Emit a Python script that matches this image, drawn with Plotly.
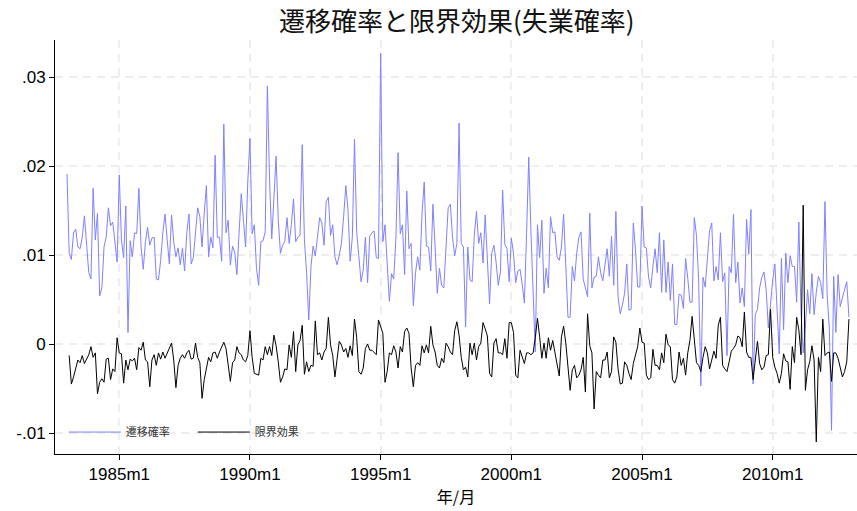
import plotly.graph_objects as go

# Monthly time index (Stata %tm codes): 1983m1 = 276 ... 2012m12 = 635
start_month = 276
n_months = 360
months = list(range(start_month, start_month + n_months))

# 遷移確率 (one row per year, Jan..Dec, 1983-2012)
transition_prob = [
    0.0191, 0.0102, 0.0095, 0.0125, 0.0129, 0.0109, 0.0107, 0.0120, 0.0144, 0.0109, 0.0080, 0.0073,
    0.0175, 0.0117, 0.0147, 0.0054, 0.0063, 0.0109, 0.0120, 0.0153, 0.0133, 0.0137, 0.0117, 0.0092,
    0.0190, 0.0117, 0.0097, 0.0155, 0.0013, 0.0116, 0.0098, 0.0125, 0.0124, 0.0175, 0.0109, 0.0084,
    0.0115, 0.0131, 0.0111, 0.0119, 0.0120, 0.0073, 0.0072, 0.0094, 0.0125, 0.0146, 0.0117, 0.0090,
    0.0145, 0.0115, 0.0098, 0.0108, 0.0089, 0.0108, 0.0082, 0.0125, 0.0146, 0.0090, 0.0097, 0.0128,
    0.0153, 0.0143, 0.0109, 0.0147, 0.0178, 0.0098, 0.0120, 0.0108, 0.0212, 0.0120, 0.0120, 0.0093,
    0.0247, 0.0125, 0.0139, 0.0089, 0.0110, 0.0103, 0.0078, 0.0125, 0.0169, 0.0139, 0.0109, 0.0182,
    0.0231, 0.0124, 0.0134, 0.0085, 0.0066, 0.0115, 0.0116, 0.0126, 0.0290, 0.0184, 0.0118, 0.0164,
    0.0211, 0.0139, 0.0102, 0.0111, 0.0115, 0.0142, 0.0113, 0.0134, 0.0163, 0.0115, 0.0120, 0.0122,
    0.0224, 0.0117, 0.0080, 0.0027, 0.0087, 0.0110, 0.0099, 0.0120, 0.0142, 0.0136, 0.0111, 0.0160,
    0.0165, 0.0122, 0.0134, 0.0098, 0.0089, 0.0100, 0.0113, 0.0143, 0.0178, 0.0151, 0.0093, 0.0120,
    0.0230, 0.0126, 0.0102, 0.0070, 0.0083, 0.0120, 0.0069, 0.0121, 0.0125, 0.0127, 0.0097, 0.0096,
    0.0327, 0.0115, 0.0134, 0.0087, 0.0048, 0.0079, 0.0073, 0.0119, 0.0215, 0.0124, 0.0134, 0.0078,
    0.0172, 0.0107, 0.0113, 0.0043, 0.0080, 0.0098, 0.0083, 0.0147, 0.0182, 0.0110, 0.0109, 0.0082,
    0.0157, 0.0109, 0.0057, 0.0085, 0.0066, 0.0063, 0.0102, 0.0153, 0.0157, 0.0120, 0.0099, 0.0113,
    0.0248, 0.0113, 0.0109, 0.0019, 0.0109, 0.0072, 0.0070, 0.0122, 0.0149, 0.0113, 0.0125, 0.0091,
    0.0145, 0.0094, 0.0045, 0.0102, 0.0111, 0.0092, 0.0066, 0.0081, 0.0173, 0.0112, 0.0107, 0.0070,
    0.0119, 0.0102, 0.0069, 0.0082, 0.0084, 0.0067, 0.0046, 0.0125, 0.0210, 0.0126, 0.0056, -0.0009,
    0.0134, 0.0097, 0.0139, 0.0057, 0.0085, 0.0063, 0.0143, 0.0125, 0.0126, 0.0098, 0.0094, 0.0109,
    0.0146, 0.0087, 0.0030, 0.0030, 0.0087, 0.0071, 0.0102, 0.0120, 0.0126, 0.0073, 0.0061, 0.0053,
    0.0147, 0.0063, 0.0075, 0.0076, 0.0098, 0.0080, 0.0071, 0.0090, 0.0107, 0.0076, 0.0121, 0.0066,
    0.0149, 0.0053, 0.0034, 0.0044, 0.0057, 0.0090, 0.0038, 0.0039, 0.0136, 0.0106, 0.0064, 0.0064,
    0.0155, 0.0109, 0.0108, 0.0075, 0.0063, 0.0087, 0.0107, 0.0080, 0.0125, 0.0058, 0.0117, 0.0058,
    0.0092, 0.0049, 0.0090, 0.0022, 0.0022, 0.0056, 0.0055, 0.0040, 0.0096, 0.0074, 0.0047, 0.0047,
    0.0142, 0.0122, 0.0072, -0.0047, 0.0075, 0.0064, 0.0098, 0.0127, 0.0136, 0.0071, 0.0087, 0.0072,
    0.0125, 0.0070, 0.0080, -0.0013, 0.0087, 0.0080, 0.0146, 0.0069, 0.0092, 0.0046, 0.0063, 0.0042,
    0.0140, 0.0101, 0.0151, -0.0045, 0.0033, 0.0039, 0.0063, 0.0075, 0.0081, 0.0061, 0.0018, 0.0049,
    0.0072, 0.0090, 0.0040, -0.0011, 0.0096, 0.0016, 0.0102, 0.0069, 0.0099, 0.0087, 0.0087, 0.0047,
    0.0137, 0.0036, -0.0010, 0.0019, 0.0061, 0.0034, 0.0079, 0.0033, 0.0058, 0.0076, 0.0069, 0.0051,
    0.0160, 0.0055, 0.0018, -0.0097, 0.0076, 0.0013, 0.0078, 0.0042, 0.0052, 0.0061, 0.0070, 0.0030,
]

# 限界効果 (first month has no value)
marginal_effect = [
    None, -0.0013, -0.0045, -0.0037, -0.0026, -0.0018, -0.0021, -0.0013, -0.0022, -0.0016, -0.0012, -0.0003,
    -0.0015, -0.0010, -0.0056, -0.0043, -0.0039, -0.0043, -0.0017, -0.0016, -0.0040, -0.0028, -0.0031, 0.0007,
    -0.0010, -0.0011, -0.0044, -0.0018, -0.0029, -0.0017, -0.0019, -0.0016, -0.0029, -0.0004, -0.0007, 0.0002,
    -0.0018, -0.0020, -0.0048, -0.0018, -0.0012, -0.0024, -0.0010, -0.0017, -0.0009, -0.0016, -0.0010, -0.0004,
    0.0001, -0.0018, -0.0049, -0.0024, -0.0016, -0.0012, -0.0016, -0.0010, -0.0007, -0.0017, -0.0016, 0.0001,
    -0.0015, -0.0021, -0.0061, -0.0040, -0.0027, -0.0015, -0.0020, -0.0010, -0.0009, -0.0016, -0.0009, -0.0003,
    0.0002, -0.0005, -0.0027, -0.0042, -0.0021, -0.0018, -0.0003, -0.0010, -0.0012, -0.0018, -0.0020, -0.0013,
    0.0015, -0.0015, -0.0033, -0.0034, -0.0035, -0.0016, -0.0018, -0.0003, -0.0012, -0.0003, -0.0013, 0.0010,
    -0.0002, -0.0020, -0.0043, -0.0037, -0.0028, -0.0029, -0.0001, -0.0015, 0.0014, -0.0031, -0.0001, 0.0004,
    0.0021, -0.0034, -0.0020, -0.0031, -0.0024, -0.0025, 0.0026, -0.0012, -0.0010, -0.0018, -0.0009, -0.0005,
    0.0030, -0.0001, -0.0013, -0.0037, -0.0017, 0.0003, -0.0001, -0.0009, -0.0005, -0.0015, -0.0002, -0.0013,
    0.0028, 0.0007, -0.0031, -0.0034, -0.0027, -0.0005, 0.0000, -0.0007, -0.0007, -0.0009, -0.0012, 0.0027,
    0.0019, 0.0012, -0.0043, -0.0031, -0.0010, -0.0012, -0.0002, -0.0009, -0.0027, -0.0003, -0.0009, 0.0014,
    0.0018, 0.0012, -0.0027, -0.0048, -0.0024, -0.0021, -0.0024, -0.0002, -0.0010, -0.0001, -0.0010, 0.0020,
    -0.0001, -0.0009, -0.0024, -0.0027, -0.0016, -0.0021, 0.0001, -0.0003, -0.0009, -0.0012, 0.0015, 0.0025,
    0.0010, -0.0015, -0.0029, -0.0026, -0.0037, 0.0001, -0.0012, 0.0001, -0.0018, -0.0003, 0.0001, 0.0024,
    0.0017, 0.0009, -0.0033, -0.0037, 0.0001, 0.0006, -0.0010, -0.0010, -0.0012, 0.0006, -0.0016, 0.0024,
    0.0024, 0.0013, -0.0035, -0.0038, -0.0007, -0.0015, -0.0022, -0.0010, -0.0010, -0.0012, -0.0010, 0.0007,
    0.0029, 0.0008, -0.0016, 0.0001, -0.0016, 0.0007, -0.0007, 0.0004, -0.0010, -0.0026, -0.0036, 0.0008,
    0.0020, 0.0001, -0.0026, -0.0052, -0.0029, -0.0024, -0.0038, -0.0035, -0.0029, -0.0015, -0.0054, 0.0034,
    -0.0002, -0.0010, -0.0073, -0.0031, -0.0035, -0.0038, -0.0018, -0.0018, -0.0009, -0.0038, -0.0031, 0.0008,
    0.0002, -0.0028, -0.0045, -0.0044, -0.0020, -0.0024, -0.0033, -0.0040, -0.0022, -0.0012, -0.0003, 0.0018,
    0.0002, 0.0001, -0.0035, -0.0040, -0.0038, -0.0006, -0.0024, -0.0024, -0.0029, -0.0010, -0.0021, 0.0011,
    -0.0001, -0.0003, -0.0040, -0.0044, -0.0037, -0.0009, -0.0024, -0.0016, -0.0035, -0.0010, 0.0004, 0.0031,
    0.0008, -0.0021, -0.0024, -0.0031, -0.0015, -0.0003, -0.0010, -0.0028, -0.0018, -0.0008, -0.0016, 0.0021,
    0.0030, -0.0024, -0.0028, -0.0031, -0.0020, -0.0008, -0.0005, -0.0001, 0.0009, 0.0007, -0.0003, 0.0036,
    -0.0009, -0.0015, -0.0015, -0.0040, -0.0018, 0.0003, -0.0022, -0.0029, -0.0026, -0.0013, -0.0012, 0.0039,
    -0.0015, -0.0026, -0.0033, -0.0044, -0.0033, -0.0011, -0.0019, -0.0020, -0.0051, -0.0003, -0.0021, 0.0030,
    0.0016, -0.0012, 0.0156, -0.0052, -0.0029, -0.0020, -0.0002, -0.0018, -0.0110, -0.0015, -0.0031, 0.0028,
    -0.0013, -0.0010, -0.0009, -0.0042, -0.0010, -0.0010, -0.0016, -0.0028, -0.0037, -0.0031, -0.0020, 0.0028,
]

series_names = ["遷移確率", "限界効果"]
x_tick_months = [300, 360, 420, 480, 540, 600]
x_tick_labels = ["1985m1", "1990m1", "1995m1", "2000m1", "2005m1", "2010m1"]
y_tick_values = [-0.01, 0, 0.01, 0.02, 0.03]
y_tick_labels = ["-.01", "0", ".01", ".02", ".03"]

title_text = "遷移確率と限界効果(失業確率)"
x_title = "年/月"

latin_font = "Liberation Sans, Arial, Helvetica, sans-serif"
cjk_font = "Noto Sans CJK JP, sans-serif"

fig = go.Figure()
fig.add_trace(go.Scatter(
    x=months, y=transition_prob, mode="lines", name=series_names[0],
    line=dict(color="#8080ff", width=1),
))
fig.add_trace(go.Scatter(
    x=months, y=marginal_effect, mode="lines", name=series_names[1],
    line=dict(color="#000000", width=1),
))

grid_style = dict(showgrid=True, gridcolor="#eeeeee", gridwidth=1.5, griddash="8px,6px")

fig.update_layout(
    width=857, height=511,
    margin=dict(l=55, r=0, t=40, b=57),
    paper_bgcolor="white", plot_bgcolor="white",
    title=dict(text=title_text, x=0.533, xanchor="center", y=0.957, yanchor="middle",
               font=dict(family=cjk_font, size=26, color="#111111")),
    font=dict(family=latin_font, size=17, color="black"),
    showlegend=True,
    legend=dict(orientation="h", x=0.011, xanchor="left", y=0.053, yanchor="middle",
                bgcolor="rgba(0,0,0,0)", font=dict(family=cjk_font, size=11, color="#333333"),
                entrywidth=62, entrywidthmode="pixels", itemwidth=52),
    xaxis=dict(
        range=[270.49, 638.7], tickmode="array", tickvals=x_tick_months, ticktext=x_tick_labels,
        showline=True, linecolor="black", linewidth=1, ticks="outside", ticklen=5,
        tickcolor="black", zeroline=False, mirror=False,
        tickfont=dict(family=latin_font, size=17, color="black"),
        title=dict(text=x_title, font=dict(family=cjk_font, size=16, color="black"), standoff=8),
        **grid_style,
    ),
    yaxis=dict(
        range=[-0.01236, 0.03416], tickmode="array", tickvals=y_tick_values, ticktext=y_tick_labels,
        showline=True, linecolor="black", linewidth=1, ticks="outside", ticklen=5,
        tickcolor="black", zeroline=False, mirror=False,
        tickfont=dict(family=latin_font, size=17, color="black"),
        **grid_style,
    ),
)

fig.write_html("out.html")
